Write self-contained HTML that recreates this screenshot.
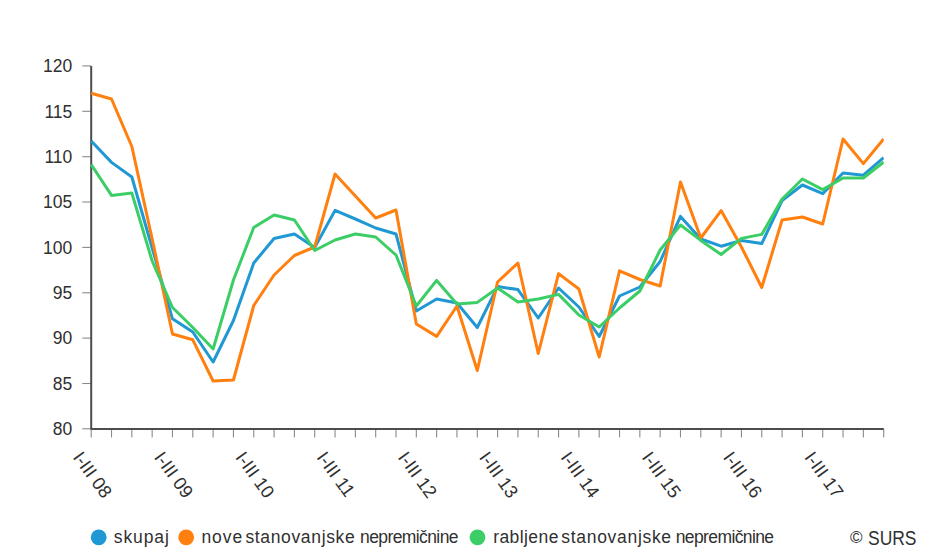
<!DOCTYPE html>
<html><head><meta charset="utf-8"><title>Indeksi cen stanovanjskih nepremičnin</title>
<style>
html,body{margin:0;padding:0;background:#fff;}
body{width:940px;height:560px;overflow:hidden;}
svg{display:block;}
text{font-family:"Liberation Sans",Arial,sans-serif;fill:#303030;}
</style></head><body>
<svg width="940" height="560" viewBox="0 0 940 560">
<rect x="0" y="0" width="940" height="560" fill="#fff"/>
<g><line x1="82.3" y1="65.9" x2="91" y2="65.9" stroke="#8a8a8a" stroke-width="1.1"/><text x="72.3" y="72.2" text-anchor="end" font-size="17.5">120</text><line x1="82.3" y1="111.3" x2="91" y2="111.3" stroke="#8a8a8a" stroke-width="1.1"/><text x="72.3" y="117.6" text-anchor="end" font-size="17.5">115</text><line x1="82.3" y1="156.7" x2="91" y2="156.7" stroke="#8a8a8a" stroke-width="1.1"/><text x="72.3" y="163.0" text-anchor="end" font-size="17.5">110</text><line x1="82.3" y1="202.0" x2="91" y2="202.0" stroke="#8a8a8a" stroke-width="1.1"/><text x="72.3" y="208.3" text-anchor="end" font-size="17.5">105</text><line x1="82.3" y1="247.4" x2="91" y2="247.4" stroke="#8a8a8a" stroke-width="1.1"/><text x="72.3" y="253.7" text-anchor="end" font-size="17.5">100</text><line x1="82.3" y1="292.8" x2="91" y2="292.8" stroke="#8a8a8a" stroke-width="1.1"/><text x="72.3" y="299.1" text-anchor="end" font-size="17.5">95</text><line x1="82.3" y1="338.1" x2="91" y2="338.1" stroke="#8a8a8a" stroke-width="1.1"/><text x="72.3" y="344.4" text-anchor="end" font-size="17.5">90</text><line x1="82.3" y1="383.5" x2="91" y2="383.5" stroke="#8a8a8a" stroke-width="1.1"/><text x="72.3" y="389.8" text-anchor="end" font-size="17.5">85</text><line x1="82.3" y1="428.8" x2="91" y2="428.8" stroke="#8a8a8a" stroke-width="1.1"/><text x="72.3" y="435.1" text-anchor="end" font-size="17.5">80</text></g>
<g><line x1="91.20" y1="429" x2="91.20" y2="437.4" stroke="#8a8a8a" stroke-width="1.1"/><line x1="111.52" y1="429" x2="111.52" y2="437.4" stroke="#8a8a8a" stroke-width="1.1"/><line x1="131.84" y1="429" x2="131.84" y2="437.4" stroke="#8a8a8a" stroke-width="1.1"/><line x1="152.16" y1="429" x2="152.16" y2="437.4" stroke="#8a8a8a" stroke-width="1.1"/><line x1="172.48" y1="429" x2="172.48" y2="437.4" stroke="#8a8a8a" stroke-width="1.1"/><line x1="192.80" y1="429" x2="192.80" y2="437.4" stroke="#8a8a8a" stroke-width="1.1"/><line x1="213.12" y1="429" x2="213.12" y2="437.4" stroke="#8a8a8a" stroke-width="1.1"/><line x1="233.44" y1="429" x2="233.44" y2="437.4" stroke="#8a8a8a" stroke-width="1.1"/><line x1="253.76" y1="429" x2="253.76" y2="437.4" stroke="#8a8a8a" stroke-width="1.1"/><line x1="274.08" y1="429" x2="274.08" y2="437.4" stroke="#8a8a8a" stroke-width="1.1"/><line x1="294.40" y1="429" x2="294.40" y2="437.4" stroke="#8a8a8a" stroke-width="1.1"/><line x1="314.72" y1="429" x2="314.72" y2="437.4" stroke="#8a8a8a" stroke-width="1.1"/><line x1="335.04" y1="429" x2="335.04" y2="437.4" stroke="#8a8a8a" stroke-width="1.1"/><line x1="355.36" y1="429" x2="355.36" y2="437.4" stroke="#8a8a8a" stroke-width="1.1"/><line x1="375.68" y1="429" x2="375.68" y2="437.4" stroke="#8a8a8a" stroke-width="1.1"/><line x1="396.00" y1="429" x2="396.00" y2="437.4" stroke="#8a8a8a" stroke-width="1.1"/><line x1="416.32" y1="429" x2="416.32" y2="437.4" stroke="#8a8a8a" stroke-width="1.1"/><line x1="436.64" y1="429" x2="436.64" y2="437.4" stroke="#8a8a8a" stroke-width="1.1"/><line x1="456.96" y1="429" x2="456.96" y2="437.4" stroke="#8a8a8a" stroke-width="1.1"/><line x1="477.28" y1="429" x2="477.28" y2="437.4" stroke="#8a8a8a" stroke-width="1.1"/><line x1="497.60" y1="429" x2="497.60" y2="437.4" stroke="#8a8a8a" stroke-width="1.1"/><line x1="517.92" y1="429" x2="517.92" y2="437.4" stroke="#8a8a8a" stroke-width="1.1"/><line x1="538.24" y1="429" x2="538.24" y2="437.4" stroke="#8a8a8a" stroke-width="1.1"/><line x1="558.56" y1="429" x2="558.56" y2="437.4" stroke="#8a8a8a" stroke-width="1.1"/><line x1="578.88" y1="429" x2="578.88" y2="437.4" stroke="#8a8a8a" stroke-width="1.1"/><line x1="599.20" y1="429" x2="599.20" y2="437.4" stroke="#8a8a8a" stroke-width="1.1"/><line x1="619.52" y1="429" x2="619.52" y2="437.4" stroke="#8a8a8a" stroke-width="1.1"/><line x1="639.84" y1="429" x2="639.84" y2="437.4" stroke="#8a8a8a" stroke-width="1.1"/><line x1="660.16" y1="429" x2="660.16" y2="437.4" stroke="#8a8a8a" stroke-width="1.1"/><line x1="680.48" y1="429" x2="680.48" y2="437.4" stroke="#8a8a8a" stroke-width="1.1"/><line x1="700.80" y1="429" x2="700.80" y2="437.4" stroke="#8a8a8a" stroke-width="1.1"/><line x1="721.12" y1="429" x2="721.12" y2="437.4" stroke="#8a8a8a" stroke-width="1.1"/><line x1="741.44" y1="429" x2="741.44" y2="437.4" stroke="#8a8a8a" stroke-width="1.1"/><line x1="761.76" y1="429" x2="761.76" y2="437.4" stroke="#8a8a8a" stroke-width="1.1"/><line x1="782.08" y1="429" x2="782.08" y2="437.4" stroke="#8a8a8a" stroke-width="1.1"/><line x1="802.40" y1="429" x2="802.40" y2="437.4" stroke="#8a8a8a" stroke-width="1.1"/><line x1="822.72" y1="429" x2="822.72" y2="437.4" stroke="#8a8a8a" stroke-width="1.1"/><line x1="843.04" y1="429" x2="843.04" y2="437.4" stroke="#8a8a8a" stroke-width="1.1"/><line x1="863.36" y1="429" x2="863.36" y2="437.4" stroke="#8a8a8a" stroke-width="1.1"/><line x1="883.68" y1="429" x2="883.68" y2="437.4" stroke="#8a8a8a" stroke-width="1.1"/></g>
<path d="M91.2,65.9 V428.9 H883.8" fill="none" stroke="#4d4d4d" stroke-width="2" stroke-linejoin="round"/>
<g><text transform="translate(72.20,457.5) rotate(54)" font-size="18.3">I-III 08</text><text transform="translate(153.48,457.5) rotate(54)" font-size="18.3">I-III 09</text><text transform="translate(234.76,457.5) rotate(54)" font-size="18.3">I-III 10</text><text transform="translate(316.04,457.5) rotate(54)" font-size="18.3">I-III 11</text><text transform="translate(397.32,457.5) rotate(54)" font-size="18.3">I-III 12</text><text transform="translate(478.60,457.5) rotate(54)" font-size="18.3">I-III 13</text><text transform="translate(559.88,457.5) rotate(54)" font-size="18.3">I-III 14</text><text transform="translate(641.16,457.5) rotate(54)" font-size="18.3">I-III 15</text><text transform="translate(722.44,457.5) rotate(54)" font-size="18.3">I-III 16</text><text transform="translate(803.72,457.5) rotate(54)" font-size="18.3">I-III 17</text></g>
<defs><clipPath id="pc"><rect x="90" y="0" width="793.8" height="560"/></clipPath></defs><g clip-path="url(#pc)">
<polyline points="91.20,141.0 111.52,162.4 131.84,177.0 152.16,248.0 172.48,318.8 192.80,332.0 213.12,362.0 233.44,320.5 253.76,263.0 274.08,238.5 294.40,234.0 314.72,247.5 335.04,210.4 355.36,219.0 375.68,228.0 396.00,234.0 416.32,311.0 436.64,299.0 456.96,303.0 477.28,327.5 497.60,286.6 517.92,289.6 538.24,318.0 558.56,288.0 578.88,307.0 599.20,336.5 619.52,296.0 639.84,287.0 660.16,261.5 680.48,216.4 700.80,239.0 721.12,246.2 741.44,240.5 761.76,243.6 782.08,200.5 802.40,185.0 822.72,193.6 843.04,173.0 863.36,175.2 883.68,157.6" fill="none" stroke="#1f98d4" stroke-width="3" stroke-linejoin="round" stroke-linecap="butt"/>
<polyline points="91.20,93.2 111.52,99.0 131.84,146.5 152.16,239.0 172.48,334.0 192.80,339.8 213.12,381.0 233.44,380.0 253.76,305.5 274.08,275.0 294.40,255.5 314.72,247.0 335.04,174.0 355.36,196.0 375.68,218.0 396.00,210.0 416.32,324.0 436.64,336.4 456.96,306.0 477.28,370.5 497.60,282.0 517.92,263.0 538.24,353.5 558.56,273.6 578.88,289.0 599.20,357.0 619.52,270.8 639.84,279.5 660.16,286.0 680.48,182.0 700.80,238.0 721.12,210.6 741.44,247.0 761.76,287.5 782.08,220.0 802.40,217.0 822.72,224.0 843.04,139.0 863.36,163.6 883.68,139.0" fill="none" stroke="#ff7f0f" stroke-width="3" stroke-linejoin="round" stroke-linecap="butt"/>
<polyline points="91.20,164.5 111.52,195.4 131.84,193.0 152.16,261.0 172.48,307.5 192.80,327.5 213.12,349.0 233.44,280.0 253.76,227.5 274.08,215.0 294.40,220.0 314.72,250.5 335.04,240.0 355.36,234.0 375.68,237.0 396.00,255.0 416.32,306.0 436.64,280.4 456.96,304.0 477.28,302.4 497.60,288.0 517.92,302.0 538.24,299.0 558.56,294.4 578.88,315.0 599.20,327.0 619.52,308.0 639.84,291.0 660.16,250.0 680.48,225.0 700.80,240.4 721.12,254.5 741.44,238.4 761.76,234.4 782.08,199.0 802.40,179.0 822.72,189.6 843.04,178.0 863.36,178.0 883.68,162.0" fill="none" stroke="#3cce66" stroke-width="3" stroke-linejoin="round" stroke-linecap="butt"/>
</g>
<g font-size="17.5">
<circle cx="98.7" cy="537.3" r="7.9" fill="#1f98d4"/>
<circle cx="186.2" cy="537.3" r="7.9" fill="#ff7f0f"/>
<circle cx="477.5" cy="537.3" r="7.9" fill="#3cce66"/>
<text x="113.8" y="543.0" textLength="55.1">skupaj</text><text x="201.4" y="543.0" textLength="40.9">nove</text><text x="245.4" y="543.0" textLength="109.3">stanovanjske</text><text x="360.1" y="543.0" textLength="98.4">nepremičnine</text><text x="493.2" y="543.0" textLength="65.2">rabljene</text><text x="561.3" y="543.0" textLength="109.8">stanovanjske</text><text x="675.7" y="543.0" textLength="98.4">nepremičnine</text>
<text x="850" y="543" font-size="17">©</text><text x="868" y="545.3" font-size="20" textLength="48.5" lengthAdjust="spacingAndGlyphs">SURS</text>
</g>
</svg>
</body></html>
